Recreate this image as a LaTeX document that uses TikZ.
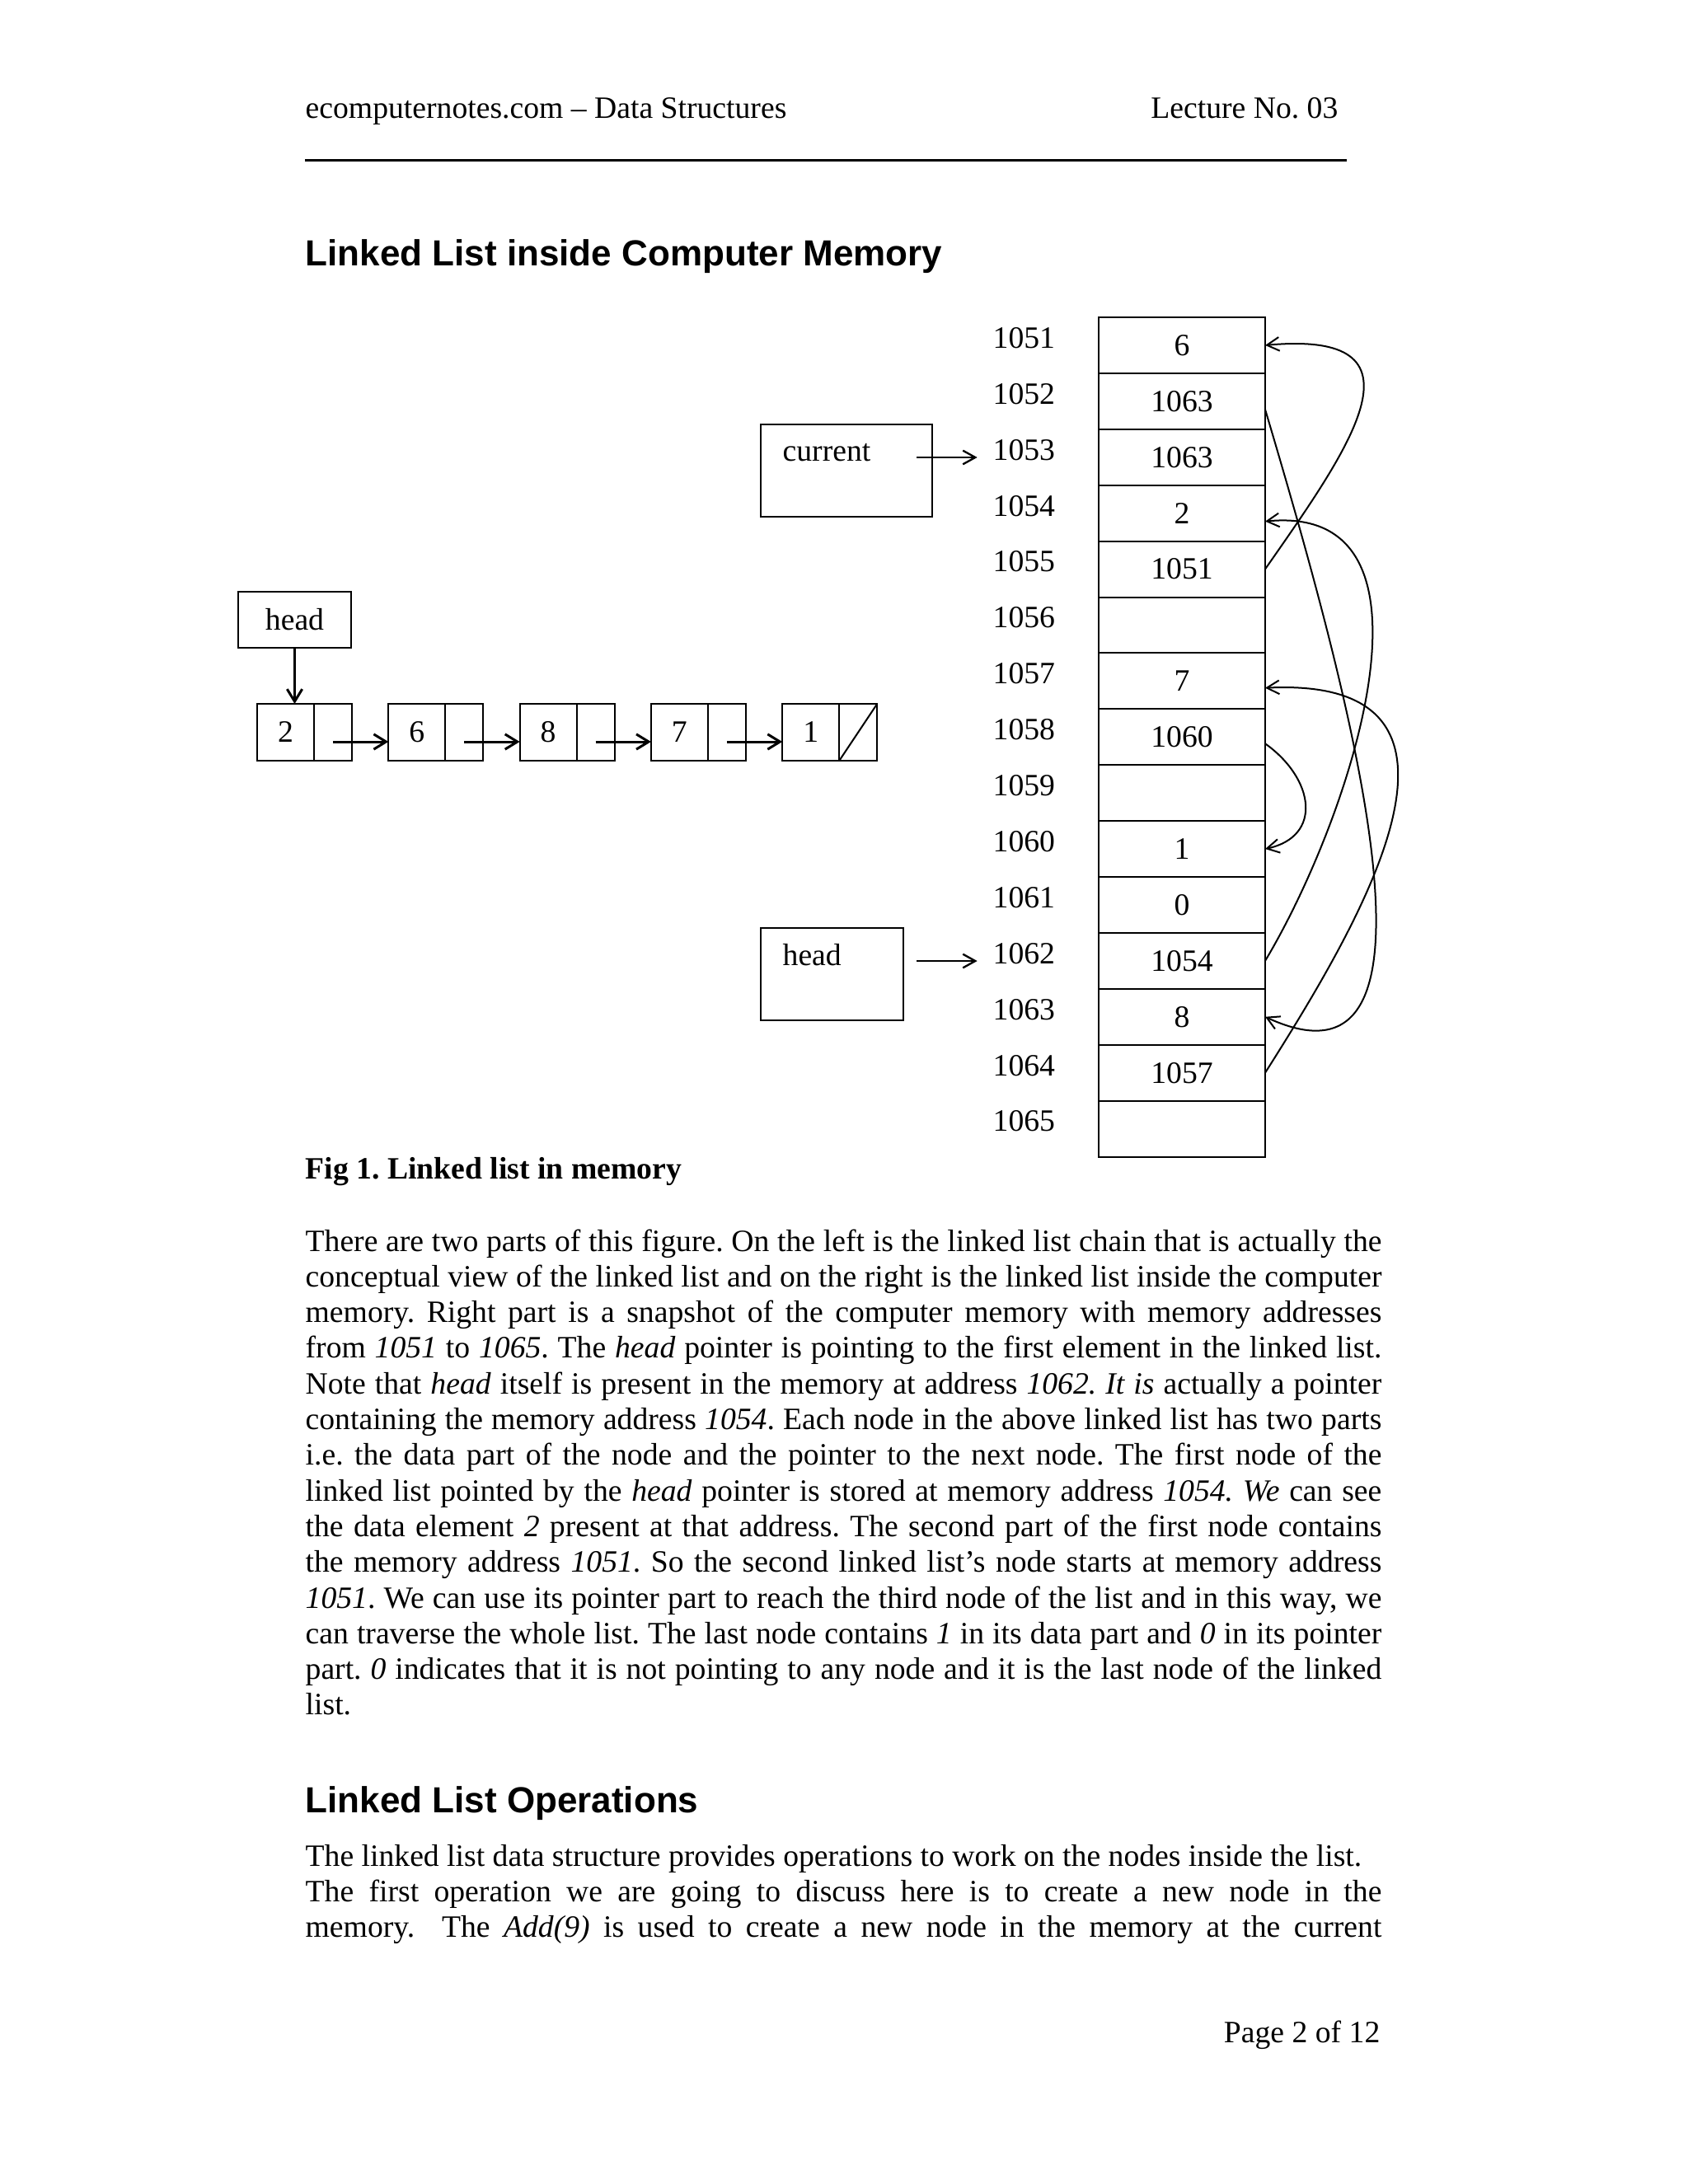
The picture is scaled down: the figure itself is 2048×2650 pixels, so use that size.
\documentclass[tikz,border=0pt]{standalone}
\usepackage{fontspec}
\setmainfont{Liberation Serif}
\newfontfamily\headfont{Liberation Sans}
\usetikzlibrary{positioning,arrows.meta}
\frenchspacing

% one unit = one pixel of the page
\newcommand\pxu{0.010542cm}
\newlength\bodyw
\setlength\bodyw{391.7pt}
\newcommand\txtsize{\fontsize{11.3}{13}\selectfont}
% justified and free lines of the running text
\newcommand\jline[3]{\node[bodyline] (#1) at (370,#2) {\makebox[\bodyw][s]{#3}};}
\newcommand\fline[3]{\node[bodyline] (#1) at (370,#2) {#3};}

\begin{document}
\begin{tikzpicture}[x=\pxu, y=-\pxu, every node/.style={font=\txtsize}]
    % styles
    \tikzstyle{memcell}=[draw, line width=0.6pt, minimum width=202*\pxu, minimum height=67.9*\pxu, inner sep=0pt, outer sep=0pt]
    \tikzstyle{addr}=[anchor=west, inner sep=0pt]
    \tikzstyle{datacell}=[draw, line width=0.6pt, minimum width=69*\pxu, minimum height=69*\pxu, inner sep=0pt, outer sep=0pt]
    \tikzstyle{ptrcell}=[draw, line width=0.6pt, minimum width=46*\pxu, minimum height=69*\pxu, inner sep=0pt, outer sep=0pt]
    \tikzstyle{ptrbox}=[draw, line width=0.6pt, inner sep=0pt, outer sep=0pt]
    \tikzstyle{bodyline}=[anchor=base west, inner sep=0pt]
    \tikzstyle{memarrow}=[line width=0.6pt, -{Straight Barb[length=4.5pt,width=5pt]}]
    \tikzstyle{listarrow}=[line width=0.9pt, -{Straight Barb[length=4.5pt,width=5.5pt]}]
    \tikzstyle{ptrarrow}=[line width=0.7pt, -{Straight Barb[length=4.5pt,width=5pt]}]

    % page
    \fill[white] (0,0) rectangle (2048,2650);
    \useasboundingbox (0,0) rectangle (2048,2650);

    % running head
    \node[bodyline] (hdleft) at (370,143) {ecomputernotes.com – Data Structures};
    \node[anchor=base east, inner sep=0pt] (hdright) at (1624,143) {Lecture No. 03};
    \draw[line width=0.9pt] (370,194) -- (1634,194);

    \node[bodyline, font=\headfont\bfseries\fontsize{13.2}{15}\selectfont] (title) at (370,322) {Linked List inside Computer Memory};

    % memory cells and their addresses
    \foreach \i/\v in {1/6,2/1063,3/1063,4/2,5/1051,6/{},7/7,8/1060,9/{},10/1,11/0,12/1054,13/8,14/1057,15/{}} {
        \node[memcell] (m\i) at (1434,{385+67.9*(\i-0.5)}) {\v};
        \pgfmathtruncatemacro\adr{1050+\i}
        \node[addr] (a\i) at (1204,{385+67.9*(\i-0.5)-9}) {\adr};
    }

    % links inside memory
    \draw[memarrow] (m5.east) .. controls (1640,540) and (1740,400) .. (m1.east);
    \draw[memarrow] ([yshift=-3pt]m2.east) .. controls (1640,850) and (1775,1345) .. (m13.east);
    \draw[memarrow] (m12.east) .. controls (1640,990) and (1765,610) .. ([yshift=-3pt]m4.east);
    \draw[memarrow] (m14.east) .. controls (1650,1120) and (1830,820) .. ([yshift=-2.5pt]m7.east);
    \draw[memarrow] ([yshift=-2.4pt]m8.east) .. controls (1595,945) and (1605,1015) .. (m10.east);

    % current and head pointers
    \node[ptrbox, minimum width=208*\pxu, minimum height=112*\pxu] (cur) at (1027,571) {};
    \node[bodyline] (curtxt) at (949,559) {current};
    \coordinate (curout) at (1112,555);
    \draw[ptrarrow, shorten >=5.5pt] (curout) -- (curout -| a3.west);

    \node[ptrbox, minimum width=173*\pxu, minimum height=112*\pxu] (hbox) at (1009.5,1182) {};
    \node[bodyline] (hboxtxt) at (949,1171) {head};
    \coordinate (headout) at (1112,1166);
    \draw[ptrarrow, shorten >=5.5pt] (headout) -- (headout -| a12.west);

    % the chain as it is drawn on paper
    \foreach \k/\v in {1/2,2/6,3/8,4/7,5/1} {
        \node[datacell] (d\k) at ({346.5+159.3*(\k-1)},888.5) {\v};
        \node[ptrcell, right=0pt of d\k] (p\k) {};
    }
    \foreach \k/\n in {1/2,2/3,3/4,4/5}
        \draw[listarrow] ([yshift=-3.45pt]p\k.center) -- ([yshift=-3.45pt]d\n.west);
    \draw[line width=0.6pt] (p5.south west) -- (p5.north east);

    \node[ptrbox, minimum width=137*\pxu, minimum height=68*\pxu] (head) at (357.5,752) {head};
    \draw[listarrow] (head.south) -- (head.south |- d1.north);

    \node[bodyline, font=\txtsize\bfseries] (caption) at (370,1430) {Fig 1. Linked list in memory};

    % text under the figure
    \jline{t1}{1518}{There are two parts of this figure. On the left is the linked list chain that is actually the}
    \jline{t2}{1561.3}{conceptual view of the linked list and on the right is the linked list inside the computer}
    \jline{t3}{1604.6}{memory. Right part is a snapshot of the computer memory with memory addresses}
    \jline{t4}{1647.9}{from \textit{1051} to \textit{1065}. The \textit{head} pointer is pointing to the first element in the linked list.}
    \jline{t5}{1691.2}{Note that \textit{head} itself is present in the memory at address \textit{1062. It is} actually a pointer}
    \jline{t6}{1734.5}{containing the memory address \textit{1054}. Each node in the above linked list has two parts}
    \jline{t7}{1777.8}{i.e. the data part of the node and the pointer to the next node. The first node of the}
    \jline{t8}{1821.1}{linked list pointed by the \textit{head} pointer is stored at memory address \textit{1054. We} can see}
    \jline{t9}{1864.4}{the data element \textit{2} present at that address. The second part of the first node contains}
    \jline{t10}{1907.7}{the memory address \textit{1051}. So the second linked list’s node starts at memory address}
    \jline{t11}{1951}{\textit{1051}. We can use its pointer part to reach the third node of the list and in this way, we}
    \jline{t12}{1994.3}{can traverse the whole list. The last node contains \textit{1} in its data part and \textit{0} in its pointer}
    \jline{t13}{2037.6}{part. \textit{0} indicates that it is not pointing to any node and it is the last node of the linked}
    \fline{t14}{2080.9}{list.}

    \node[bodyline, font=\headfont\bfseries\fontsize{13.2}{15}\selectfont] (ops) at (370,2199) {Linked List Operations};

    \fline{u1}{2264}{The linked list data structure provides operations to work on the nodes inside the list.}
    \jline{u2}{2307.3}{The first operation we are going to discuss here is to create a new node in the}
    \jline{u3}{2350.6}{memory. \ The \textit{Add(9)} is used to create a new node in the memory at the current}

    \node[anchor=base east, inner sep=0pt] (pageno) at (1675,2478) {Page 2 of 12};
\end{tikzpicture}
\end{document}
